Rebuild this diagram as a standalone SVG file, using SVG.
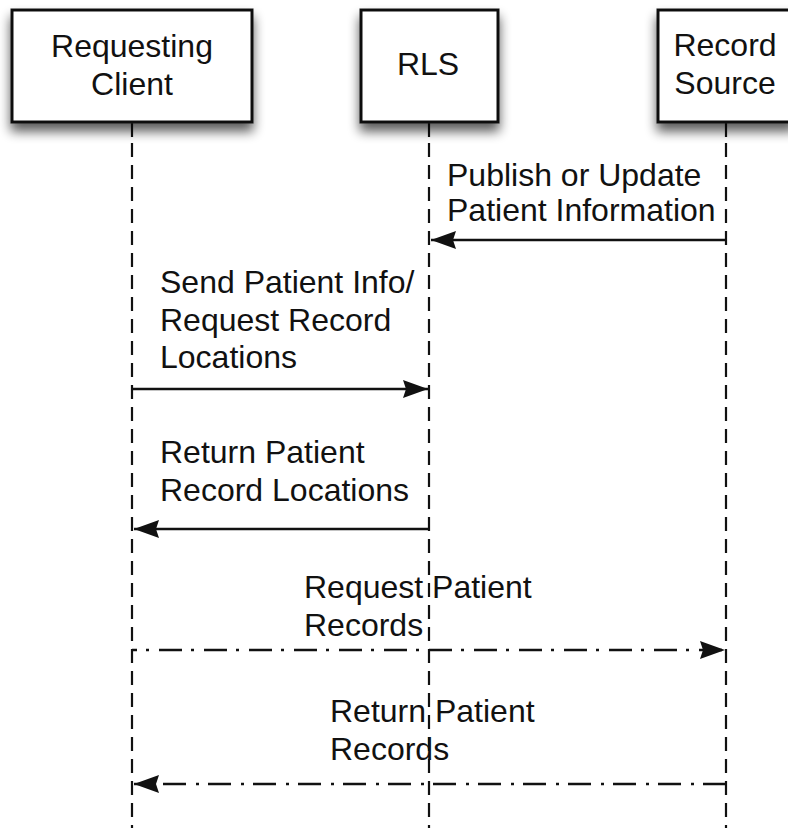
<svg xmlns="http://www.w3.org/2000/svg" width="788" height="828" viewBox="0 0 788 828">
  <style>
    .box { fill: #ffffff; stroke: #111111; stroke-width: 3; }
    .lbl { font-family: "Liberation Sans", Arial, Helvetica, sans-serif; font-size: 32px; fill: #111111; }
    .mid { text-anchor: middle; }
    .life { stroke: #111111; stroke-width: 2.2; stroke-dasharray: 14 8; fill: none; }
    .lifetop { stroke: #111111; stroke-width: 2.2; fill: none; }
    .msg { stroke: #111111; stroke-width: 2.6; fill: none; }
    .dd { stroke: #111111; stroke-width: 2.6; fill: none; stroke-dasharray: 23 9 3 10; }
  </style>
  <defs>
    <filter id="shadow" x="-20%" y="-20%" width="140%" height="170%">
      <feGaussianBlur in="SourceAlpha" stdDeviation="6"/>
      <feOffset dx="0" dy="8" result="b"/>
      <feComponentTransfer><feFuncA type="linear" slope="0.65"/></feComponentTransfer>
      <feMerge><feMergeNode/><feMergeNode in="SourceGraphic"/></feMerge>
    </filter>
    <marker id="arrow" viewBox="0 0 25 18" refX="25" refY="9" markerWidth="25" markerHeight="18" markerUnits="userSpaceOnUse" orient="auto">
      <path d="M0,0 L25,9 L0,18 L3,9 Z" fill="#111111"/>
    </marker>
  </defs>

  <g id="lifelines">
    <line class="lifetop" x1="132" y1="122" x2="132" y2="137"/>
    <line class="life" x1="132" y1="143" x2="132" y2="828"/>
    <line class="lifetop" x1="429" y1="122" x2="429" y2="137"/>
    <line class="life" x1="429" y1="143" x2="429" y2="828"/>
    <line class="lifetop" x1="726" y1="122" x2="726" y2="137"/>
    <line class="life" x1="726" y1="143" x2="726" y2="828"/>
  </g>

  <g id="node-client">
    <rect class="box" x="12" y="10" width="240" height="112" filter="url(#shadow)"/>
    <text class="lbl mid" x="132" y="57">Requesting</text>
    <text class="lbl mid" x="132" y="95">Client</text>
  </g>
  <g id="node-rls">
    <rect class="box" x="361" y="10" width="137" height="112" filter="url(#shadow)"/>
    <text class="lbl mid" x="428" y="75">RLS</text>
  </g>
  <g id="node-source">
    <rect class="box" x="658" y="10" width="136" height="112" filter="url(#shadow)"/>
    <text class="lbl mid" x="725" y="56">Record</text>
    <text class="lbl mid" x="725" y="94">Source</text>
  </g>

  <g id="connectors">
    <line class="msg" x1="726" y1="240" x2="431" y2="240" marker-end="url(#arrow)"/>
    <line class="msg" x1="132" y1="389" x2="428" y2="389" marker-end="url(#arrow)"/>
    <line class="msg" x1="429" y1="529" x2="134" y2="529" marker-end="url(#arrow)"/>
    <line class="dd" x1="132" y1="650" x2="725" y2="650" stroke-dashoffset="18" marker-end="url(#arrow)"/>
    <line class="dd" x1="726" y1="784" x2="134" y2="784" marker-end="url(#arrow)"/>
  </g>

  <g id="labels">
    <text class="lbl" x="447" y="186">Publish or Update</text>
    <text class="lbl" x="447" y="221">Patient Information</text>
    <text class="lbl" x="160" y="293">Send Patient Info/</text>
    <text class="lbl" x="160" y="331">Request Record</text>
    <text class="lbl" x="160" y="368">Locations</text>
    <text class="lbl" x="160" y="463">Return Patient</text>
    <text class="lbl" x="160" y="501">Record Locations</text>
    <text class="lbl" x="304" y="598">Request Patient</text>
    <text class="lbl" x="304" y="636">Records</text>
    <text class="lbl" x="330" y="722">Return Patient</text>
    <text class="lbl" x="330" y="760">Records</text>
  </g>
</svg>
